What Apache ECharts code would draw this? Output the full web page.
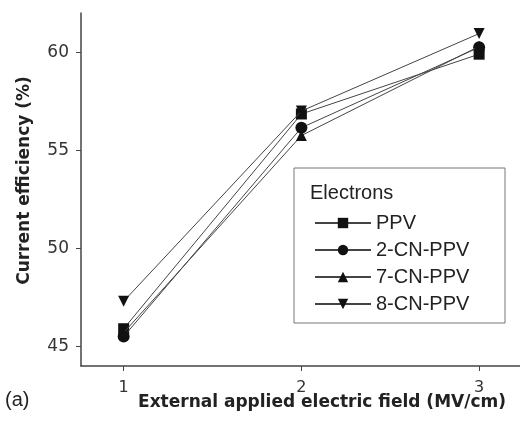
<!DOCTYPE html>
<html>
<head>
  <meta charset="utf-8">
  <title>Current efficiency</title>
  <style>body{margin:0;background:#fff}</style>
</head>
<body>
  <div id="main" style="width: 520px;height:429px;"></div>
</body>
<script src="https://cdn.jsdelivr.net/npm/echarts@6/dist/echarts.min.js"></script>
<script>
// field values (MV/cm)
let fields = [1, 2, 3];
let names = ['PPV', '2-CN-PPV', '7-CN-PPV', '8-CN-PPV'];
let symbols = ['rect', 'circle', 'triangle', 'path://M0,0 L10,0 L5,10 Z'];
let ppv = [45.9, 56.85, 59.9];
let cn2 = [45.5, 56.15, 60.25];
let cn7 = [45.7, 55.75, 60.3];
let cn8 = [47.3, 57.0, 60.95];
let yTicks = [45, 50, 55, 60];

let myChart = echarts.init(document.querySelector('#main'))

let font = 'Liberation Sans, Arial, sans-serif';
let wide = 'DejaVu Sans, sans-serif';
let allData = [ppv, cn2, cn7, cn8];

let series = names.map((n, i) => ({
    name: n,
    type: 'line',
    symbol: symbols[i],
    symbolSize: i == 1 ? 12 : 11,
    lineStyle: { color: '#444', width: 1 },
    itemStyle: { color: '#111' },
    data: fields.map((f, j) => [f, allData[i][j]]),
    z: 3 + i
}));

let option = {
    animation: false,
    grid: { left: 81, top: 13, right: 0, bottom: 63 },
    xAxis: {
        type: 'value',
        min: 0.76,
        max: 3.23,
        splitLine: { show: false },
        axisLine: { lineStyle: { color: '#444', width: 1.5 } },
        axisTick: { customValues: fields, length: 5, lineStyle: { color: '#444' } },
        axisLabel: { customValues: fields, color: '#333', fontSize: 16, fontFamily: wide, margin: 14 },
        name: 'External applied electric field (MV/cm)',
        nameLocation: 'middle',
        nameGap: 28,
        nameMoveOverlap: false,
        nameTextStyle: { fontWeight: 'bold', fontSize: 17, color: '#222', fontFamily: wide, padding: [0, 0, 0, 43] }
    },
    yAxis: {
        type: 'value',
        min: 44,
        max: 62,
        splitLine: { show: false },
        axisLine: { show: true, lineStyle: { color: '#444', width: 1.5 } },
        axisTick: { show: true, customValues: yTicks, length: 5, lineStyle: { color: '#444' } },
        axisLabel: { customValues: yTicks, color: '#333', fontSize: 17, fontFamily: wide, margin: 12 },
        name: 'Current efficiency (%)',
        nameLocation: 'middle',
        nameGap: 48,
        nameMoveOverlap: false,
        nameTextStyle: { fontWeight: 'bold', fontSize: 17, color: '#222', fontFamily: wide, padding: [0, 0, 0, 18] }
    },
    legend: {
        data: names,
        orient: 'vertical',
        left: 309,
        top: 208,
        itemWidth: 56,
        itemHeight: 13,
        itemGap: 7,
        textStyle: { fontSize: 20, lineHeight: 20, color: '#222', fontFamily: font }
    },
    graphic: [
        {
            type: 'rect',
            shape: { x: 294, y: 168, width: 211, height: 155 },
            style: { fill: '#fff', stroke: '#777', lineWidth: 1 },
            z: -1
        },
        {
            type: 'text',
            left: 310,
            top: 183,
            style: { text: 'Electrons', fontSize: 20, fill: '#222', fontFamily: font }
        },
        {
            type: 'text',
            left: 5,
            top: 390,
            style: { text: '(a)', fontSize: 20, fill: '#222', fontFamily: font }
        }
    ],
    series: series
};
myChart.setOption(option);
</script>
</html>
